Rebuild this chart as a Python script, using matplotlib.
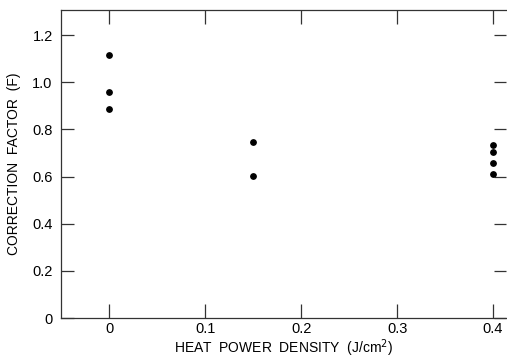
import numpy as np
from matplotlib import pyplot as plt

# %% Data.
heat_density = [0.0, 0.0, 0.0, 0.15, 0.15, 0.4, 0.4, 0.4, 0.4]
corr_factor = [1.115, 0.958, 0.888, 0.747, 0.602, 0.735, 0.706, 0.659, 0.611]

x_ticks = [0, 0.1, 0.2, 0.3, 0.4]
x_tick_labels = ['0', '0.1', '0.2', '0.3', '0.4']
y_ticks = [0, 0.2, 0.4, 0.6, 0.8, 1.0, 1.2]
y_tick_labels = ['0', '0.2', '0.4', '0.6', '0.8', '1.0', '1.2']

# %% Plot.
plt.rcParams['font.family'] = 'Liberation Sans'
fig = plt.figure(figsize=(5.07, 3.6), dpi=100)
ax = fig.add_axes([61 / 507, 42 / 360, 445 / 507, 308 / 360])

ax.scatter(heat_density, corr_factor, s=15, color='k', zorder=3)

ax.set_xlim(-0.0505, 0.4135)
ax.set_ylim(0, 1.307)
ax.set_xticks(x_ticks)
ax.set_xticklabels(x_tick_labels)
ax.set_yticks(y_ticks)
ax.set_yticklabels(y_tick_labels)

ax.tick_params(axis='x', direction='in', length=10, width=0.9, top=True,
               labelsize=10.5, color='#333333', pad=3)
ax.tick_params(axis='y', direction='in', length=9, width=0.9, right=True,
               labelsize=10.5, color='#333333', pad=6)
for sp in ax.spines.values():
    sp.set_linewidth(0.9)
    sp.set_color('#333333')
ax.spines['right'].set_visible(False)

ax.set_xlabel('HEAT  POWER  DENSITY  (J/cm$^2$)', fontsize=10, labelpad=1)
ax.set_ylabel('CORRECTION  FACTOR  (F)', fontsize=10, labelpad=8)

fig.savefig('out.png', dpi=100)
